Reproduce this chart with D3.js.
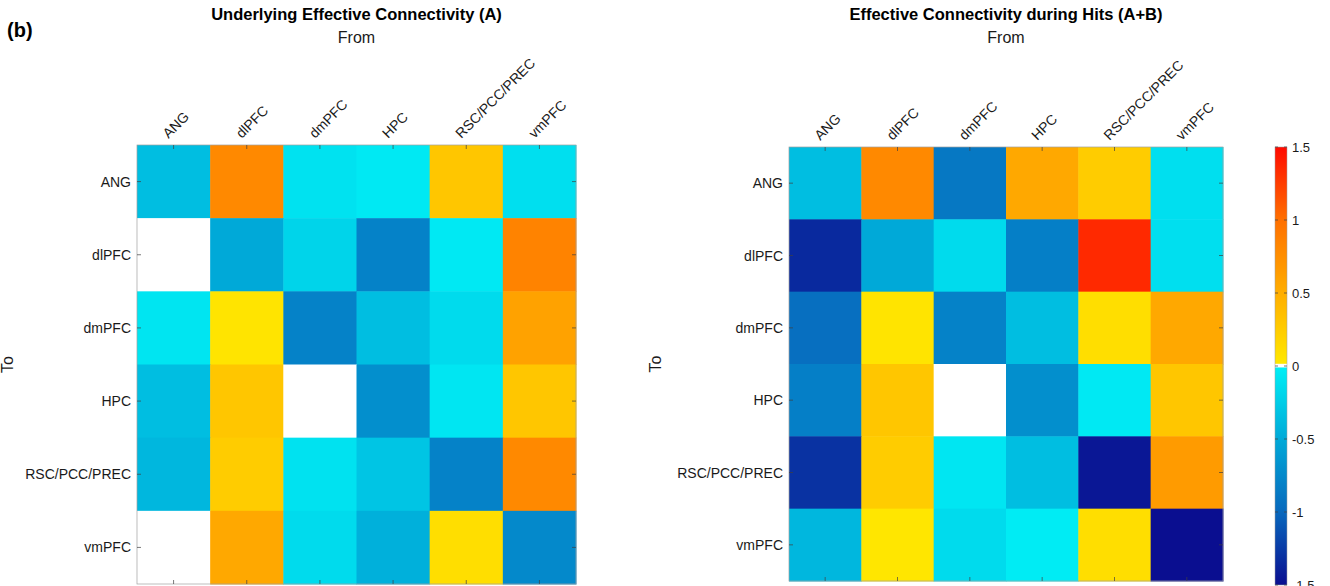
<!DOCTYPE html>
<html>
<head>
<meta charset="utf-8">
<script src="https://cdn.jsdelivr.net/npm/d3@7"></script>
<style>
  body { margin: 0; background: #fff; }
  svg { display: block; font-family: "Liberation Sans", Arial, Helvetica, sans-serif; }
</style>
</head>
<body>
<div id="plot"></div>
<script>
// regions, rows = "To", columns = "From"
const regions = ["ANG", "dlPFC", "dmPFC", "HPC", "RSC/PCC/PREC", "vmPFC"];

// null = empty (white) cell
const underlyingA = [
  [-0.35,  0.80, -0.10, -0.05,  0.30, -0.12],
  [ null, -0.50, -0.20, -0.80, -0.05,  0.85],
  [-0.08,  0.05, -0.80, -0.35, -0.15,  0.60],
  [-0.35,  0.30,  null, -0.70, -0.07,  0.30],
  [-0.40,  0.25, -0.10, -0.30, -0.80,  0.80],
  [ null,  0.55, -0.15, -0.45,  0.10, -0.75]
];

const hitsAB = [
  [-0.35,  0.80, -0.88,  0.55,  0.25, -0.12],
  [-1.35, -0.50, -0.15, -0.82,  1.35, -0.12],
  [-0.95,  0.05, -0.80, -0.35,  0.10,  0.55],
  [-0.82,  0.30,  null, -0.70, -0.05,  0.30],
  [-1.30,  0.25, -0.07, -0.35, -1.45,  0.65],
  [-0.40,  0.03, -0.15, -0.03,  0.10, -1.50]
];

const cbarTicks = [-1.5, -1, -0.5, 0, 0.5, 1, 1.5];
const titles = ["Underlying Effective Connectivity (A)", "Effective Connectivity during Hits (A+B)"];

window.addEventListener("load", main);

function main(){
  const W = 1330, H = 586;
  const svg = d3.select('#plot').append('svg')
    .attr('width', W).attr('height', H);

  // blue half for negatives, yellow-red half for positives
  const neg = d3.scaleLinear().domain([-1.5, -1, -0.5, 0])
    .range(["#0a0e90", "#0868bd", "#00a9d8", "#00f0f6"]).clamp(true);
  const pos = d3.scaleLinear().domain([0, 0.5, 1, 1.5])
    .range(["#ffea00", "#ffae00", "#ff7000", "#ff0a00"]).clamp(true);
  const colour = v => v === null ? "#ffffff" : (v < 0 ? neg(v) : pos(v));

  svg.append('text').text('(b)')
    .attr('x', 7).attr('y', 37)
    .attr('font-size', 20).attr('font-weight', 'bold');

  const panels = [
    {x0: 137, y0: 145, size: 439, data: underlyingA, title: titles[0], toX: 13},
    {x0: 789, y0: 147, size: 434, data: hitsAB, title: titles[1], toX: 661}
  ];

  panels.forEach(p => {
    const g = svg.append('g');
    const xsc = d3.scaleBand().domain(regions).range([p.x0, p.x0 + p.size]);
    const ysc = d3.scaleBand().domain(regions).range([p.y0, p.y0 + p.size]);

    const cells = [];
    p.data.forEach((row, i) => row.forEach((v, j) => cells.push({to: regions[i], from: regions[j], v: v})));

    g.selectAll('rect.cell')
      .data(cells)
      .join('rect')
        .attr('class', 'cell')
        .attr('x', d => xsc(d.from))
        .attr('y', d => ysc(d.to))
        .attr('width', xsc.bandwidth() + 0.5)
        .attr('height', ysc.bandwidth() + 0.5)
        .attr('fill', d => colour(d.v));

    // box
    g.append('rect')
      .attr('x', p.x0).attr('y', p.y0)
      .attr('width', p.size).attr('height', p.size)
      .attr('fill', 'none').attr('stroke', '#a0a0a0').attr('stroke-width', 0.7);

    // inward ticks on all sides
    const tl = 4;
    const ticks = g.append('g').attr('stroke', '#404040').attr('stroke-width', 0.7);
    regions.forEach(r => {
      const cx = xsc(r) + xsc.bandwidth() / 2;
      const cy = ysc(r) + ysc.bandwidth() / 2;
      ticks.append('line').attr('x1', cx).attr('x2', cx).attr('y1', p.y0).attr('y2', p.y0 + tl);
      ticks.append('line').attr('x1', cx).attr('x2', cx).attr('y1', p.y0 + p.size).attr('y2', p.y0 + p.size - tl);
      ticks.append('line').attr('y1', cy).attr('y2', cy).attr('x1', p.x0).attr('x2', p.x0 + tl);
      ticks.append('line').attr('y1', cy).attr('y2', cy).attr('x1', p.x0 + p.size).attr('x2', p.x0 + p.size - tl);
    });

    // row labels
    g.selectAll('text.ylab')
      .data(regions)
      .join('text')
        .attr('class', 'ylab')
        .attr('x', p.x0 - 6)
        .attr('y', d => ysc(d) + ysc.bandwidth() / 2 + 5)
        .attr('text-anchor', 'end')
        .attr('font-size', 14)
        .attr('fill', '#1a1a1a')
        .text(d => d);

    // column labels, rotated
    g.selectAll('text.xlab')
      .data(regions)
      .join('text')
        .attr('class', 'xlab')
        .attr('transform', d => `translate(${xsc(d) + xsc.bandwidth() / 2 - 5},${p.y0 - 6}) rotate(-45)`)
        .attr('font-size', 14)
        .attr('fill', '#1a1a1a')
        .text(d => d);

    const cxm = p.x0 + p.size / 2;
    g.append('text').text(p.title)
      .attr('x', cxm).attr('y', 20)
      .attr('text-anchor', 'middle')
      .attr('font-size', 16.5).attr('font-weight', 'bold');
    g.append('text').text('From')
      .attr('x', cxm).attr('y', 43)
      .attr('text-anchor', 'middle')
      .attr('font-size', 16).attr('fill', '#1a1a1a');
    g.append('text').text('To')
      .attr('transform', `translate(${p.toX},${p.y0 + p.size / 2}) rotate(-90)`)
      .attr('text-anchor', 'middle')
      .attr('font-size', 16).attr('fill', '#1a1a1a');
  });

  // colorbar
  const cb = {x: 1275, w: 12};
  const csc = d3.scaleLinear().domain([-1.5, 1.5]).range([585, 147]);
  const defs = svg.append('defs');
  const grad = defs.append('linearGradient').attr('id', 'cbgrad')
    .attr('x1', 0).attr('x2', 0).attr('y1', 1).attr('y2', 0);
  const stops = d3.range(-1.5, 1.5001, 0.05).map(v => +v.toFixed(2));
  stops.forEach(v => {
    const off = (v + 1.5) / 3;
    if (v === 0) {
      grad.append('stop').attr('offset', off).attr('stop-color', neg(0));
      grad.append('stop').attr('offset', off).attr('stop-color', pos(0));
    } else {
      grad.append('stop').attr('offset', off).attr('stop-color', colour(v));
    }
  });
  svg.append('rect')
    .attr('x', cb.x).attr('y', csc(1.5))
    .attr('width', cb.w).attr('height', csc(-1.5) - csc(1.5))
    .attr('fill', 'url(#cbgrad)');
  // white band around zero
  svg.append('rect')
    .attr('x', cb.x).attr('y', csc(0.015))
    .attr('width', cb.w).attr('height', csc(-0.01) - csc(0.015))
    .attr('fill', '#ffffff');
  svg.append('rect')
    .attr('x', cb.x).attr('y', csc(1.5))
    .attr('width', cb.w).attr('height', csc(-1.5) - csc(1.5))
    .attr('fill', 'none').attr('stroke', '#a0a0a0').attr('stroke-width', 0.5);

  const cbAxis = svg.append('g');
  cbTicks(cbAxis, csc, cb);
}

function cbTicks(g, csc, cb){
  cbarTicks.forEach(v => {
    const y = csc(v);
    g.append('line').attr('x1', cb.x + cb.w - 3).attr('x2', cb.x + cb.w)
      .attr('y1', y).attr('y2', y).attr('stroke', '#404040').attr('stroke-width', 0.7);
    g.append('line').attr('x1', cb.x).attr('x2', cb.x + 3)
      .attr('y1', y).attr('y2', y).attr('stroke', '#404040').attr('stroke-width', 0.7);
    g.append('text').text(v)
      .attr('x', cb.x + cb.w + 5).attr('y', y + 5)
      .attr('font-size', 13).attr('fill', '#1a1a1a');
  });
}
</script>
</body>
</html>
